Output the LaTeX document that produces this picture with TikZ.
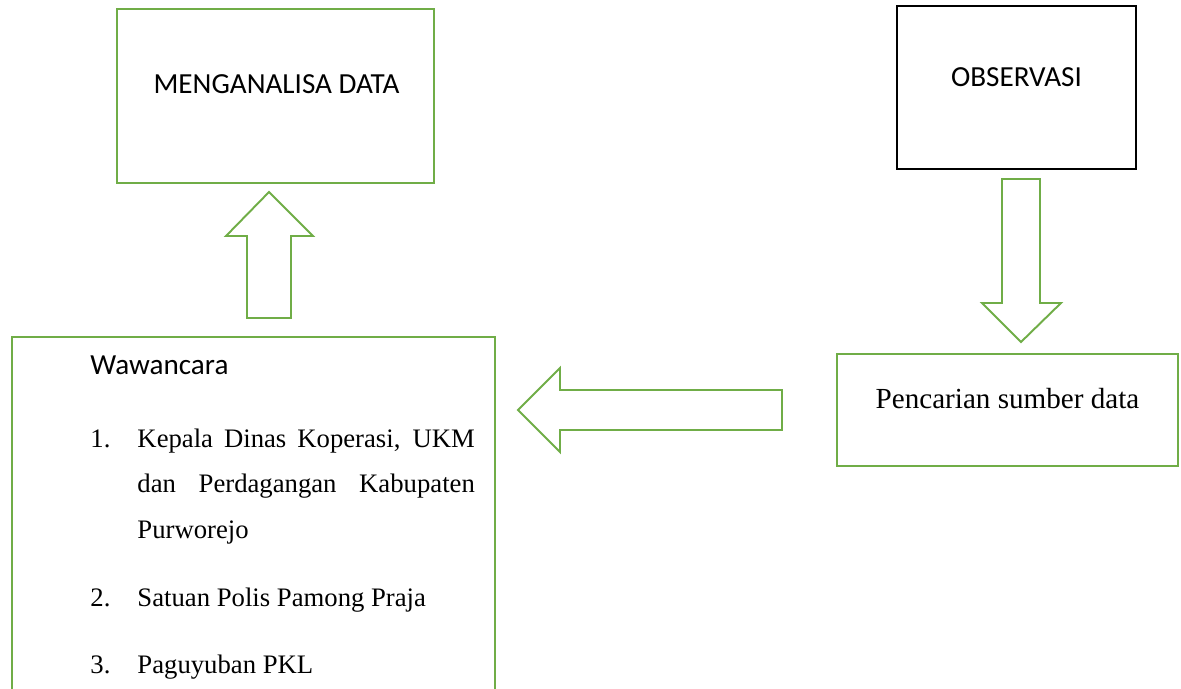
\documentclass[tikz,border=0pt]{standalone}
\usepackage{fontspec}
\setmainfont{Liberation Serif}
\setsansfont{Carlito}
\definecolor{office}{HTML}{70AD47}
\tikzset{
  gbox/.style={draw=office, line width=0.8pt},
  kbox/.style={draw=black, line width=0.8pt},
  barrow/.style={draw=office, line width=0.8pt, line join=miter},
  headtxt/.style={font=\sffamily\fontsize{12}{14}\selectfont, inner sep=0pt, anchor=base},
  serif/.style={font=\fontsize{12}{14}\selectfont, inner sep=0pt, anchor=base},
  itemtxt/.style={font=\fontsize{11}{18.8}\selectfont, inner sep=0pt, anchor=base west},
}

\begin{document}
\begin{tikzpicture}[x=0.412pt, y=-0.412pt]
  \useasboundingbox (0,0) rectangle (1181,689);

  % Menganalisa data
  \draw[gbox] (117,9) rectangle (434,183);
  \node[headtxt] (analisa) at (276.5,93) {MENGANALISA DATA};

  % Observasi
  \draw[kbox] (897,6) rectangle (1136,169);
  \node[headtxt] (observasi) at (1016.5,86) {OBSERVASI};

  % Pencarian sumber data
  \draw[gbox] (837,354) rectangle (1178,466);
  \node[serif] (pencarian) at (1007.5,408) {Pencarian sumber data};

  % Wawancara
  \draw[gbox] (12,692) |- (495,337) -- (495,692);
  \node[headtxt, anchor=base west] (wawancara) at (90,374) {Wawancara};
  \node[itemtxt] (no1) at (90,447) {1.};
  \node[itemtxt, text width=139pt, align=justify] (item1) at (137,447)
    {Kepala Dinas Koperasi, UKM\linebreak dan Perdagangan Kabupaten\linebreak Purworejo};
  \node[itemtxt] (no2) at (90,606) {2.};
  \node[itemtxt] (item2) at (137,606) {Satuan Polis Pamong Praja};
  \node[itemtxt] (no3) at (90,673) {3.};
  \node[itemtxt] (item3) at (137,673) {Paguyuban PKL};

  % Block arrows
  \draw[barrow] (247,318) -- (247,236) -- (226,236) -- (269,192) -- (313,236)
    -- (291,236) -- (291,318) -- cycle;
  \draw[barrow] (1002,179) -- (1002,303) -- (982,303) -- (1021,342) -- (1061,303)
    -- (1040,303) -- (1040,179) -- cycle;
  \draw[barrow] (782,390) -- (560,390) -- (560,368) -- (518,410) -- (560,452)
    -- (560,430) -- (782,430) -- cycle;
\end{tikzpicture}
\end{document}
